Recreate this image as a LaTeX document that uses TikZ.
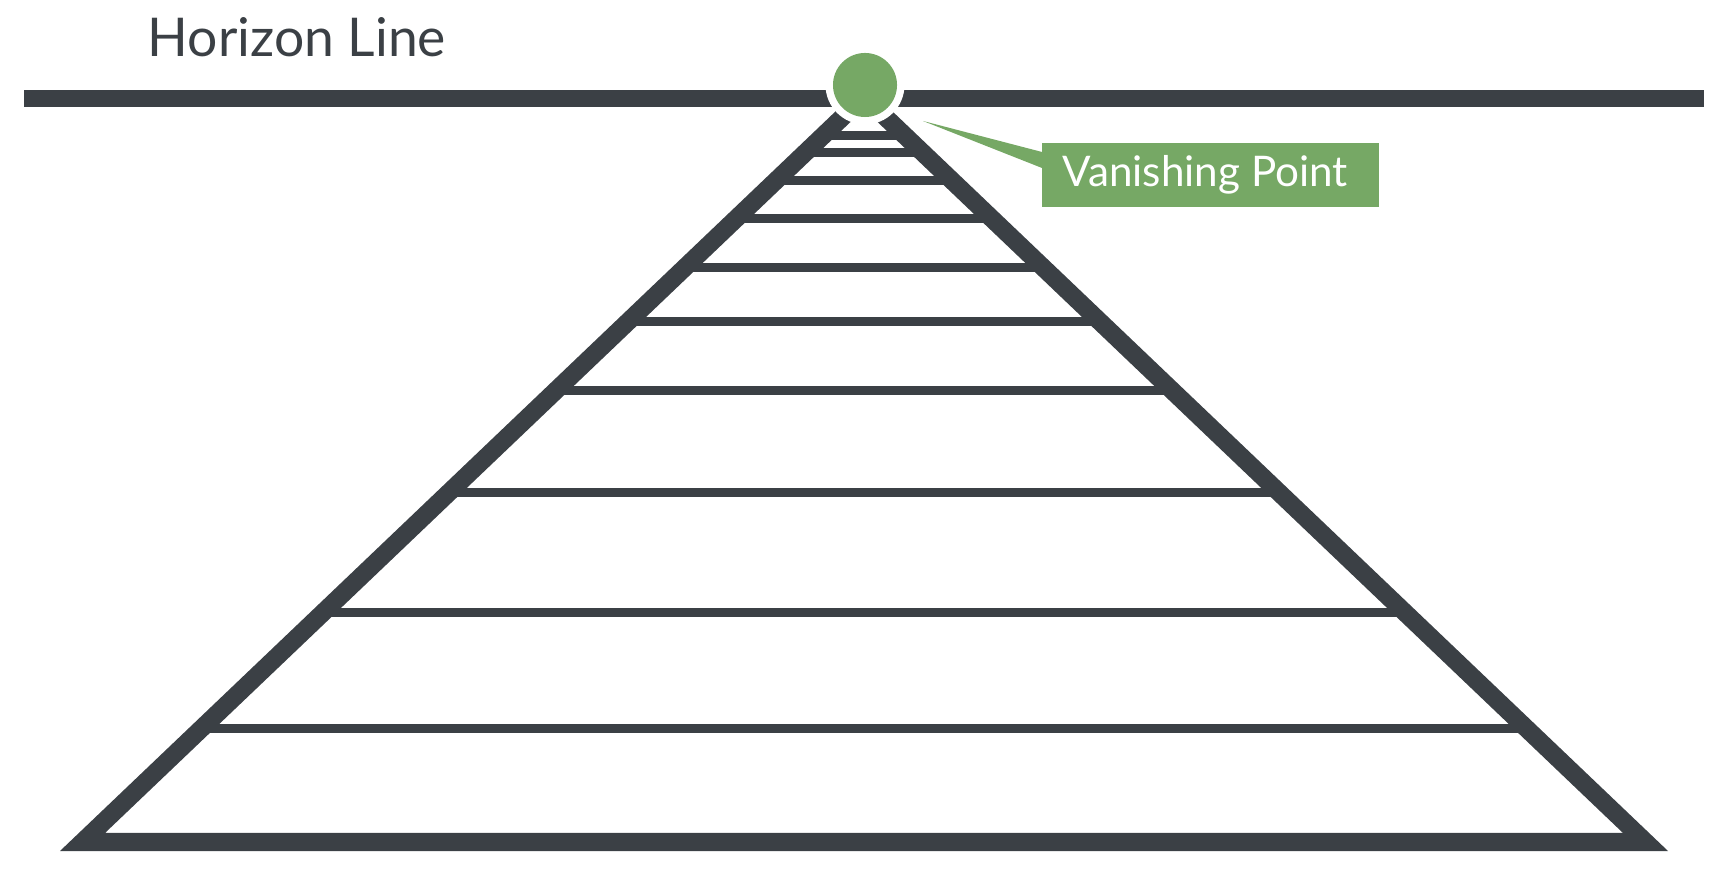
\documentclass[tikz,border=0pt]{standalone}
\usepackage{fontspec}
\setmainfont{Lato}
\definecolor{railgray}{RGB}{59,64,69}
\definecolor{vpgreen}{RGB}{118,168,101}
\begin{document}
\begin{tikzpicture}[x=0.01cm,y=-0.01cm,
  rail/.style={draw=railgray,line width=0.18cm,line join=miter},
  rung/.style={draw=railgray,line width=0.09cm},
  bar/.style={fill=railgray},
  lbl/.style={inner sep=0pt,anchor=base west}]
\useasboundingbox (0,0) rectangle (1736,892);
% horizon bar
\fill[bar] (24,90) rectangle (1704,107);
% track outline
\coordinate (bl) at (82.5,842);
\coordinate (br) at (1645.5,842);
\coordinate (ap) at (864,96.7);
\draw[rail] (bl) -- (br) -- (ap) -- cycle;
% rungs
\foreach \yy in {135.5,152.5,180.5,218.5,267.5,321.5,390.5,493,612.5,728.5}{
  \pgfmathsetmacro\xl{82.5+(842-\yy)*1.0486}
  \pgfmathsetmacro\xr{1728-\xl}
  \draw[rung] (\xl,\yy) -- (\xr,\yy);
}
% vanishing point
\fill[white] (865,85) circle[radius=39.5];
\node[circle,fill=vpgreen,minimum size=0.64cm,inner sep=0pt] (vp) at (865,85) {};
% callout
\coordinate (tip) at (923,121);
\node[fill=vpgreen,anchor=north west,minimum width=3.37cm,minimum height=0.64cm,inner sep=0pt] (box) at (1041,142) {};
\fill[vpgreen] (tip) -- (1042,152) -- (1042,168) -- cycle;
\node[lbl,text=white,font=\fontsize{12pt}{14pt}\selectfont] (vptext) at (1062,187) {Vanishing Point};
\node[lbl,text=railgray,font=\fontsize{15.2pt}{18pt}\selectfont] (hl) at (147,57) {Horizon Line};
\end{tikzpicture}
\end{document}
